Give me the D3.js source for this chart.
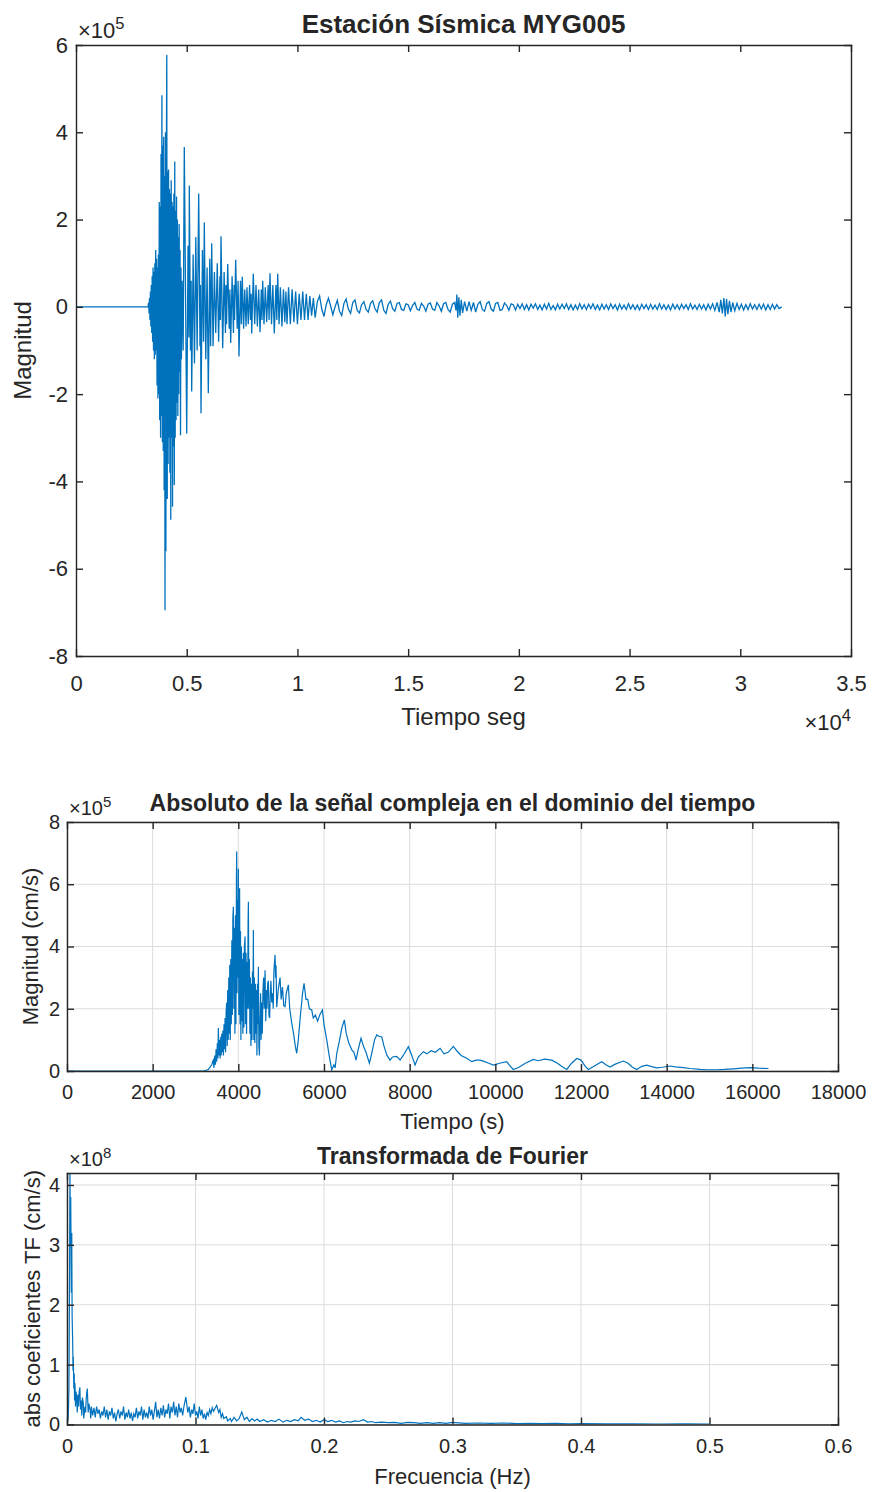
<!DOCTYPE html>
<html lang="es">
<head>
<meta charset="UTF-8">
<title>Estación Sísmica MYG005</title>
<script src="https://d3js.org/d3.v7.min.js"></script>
<style>
  body { margin: 0; background: #fff; }
  svg text { font-family: "Liberation Sans", Arial, sans-serif; fill: #262626; }
</style>
</head>
<body>
<svg id="chart" width="872" height="1492"></svg>
<script>
// --- datos ---
// senal sismica: [tiempo s, magnitud x1e5]
const sismo = [
  [0,0],[3250,0],[3280,0.1],[3300,-0.15],[3320,0.2],[3340,-0.3],[3360,0.35],[3380,-0.45],[3400,0.5],
  [3420,-0.6],[3440,0.7],[3460,-0.8],[3480,0.9],[3500,-1.0],[3520,0.8],[3540,-1.2],[3560,1.0],
  [3580,-1.1],[3600,1.3],[3620,-1.0],[3640,1.1],[3660,-1.8],[3680,0.9],[3700,-2.1],[3720,1.2],
  [3740,-2.0],[3760,2.4],[3780,-2.6],[3800,2.3],[3820,-3.0],[3840,3.5],[3860,-2.5],[3880,4.85],
  [3900,-3.1],[3920,3.7],[3940,-3.3],[3960,3.9],[3980,-4.2],[4000,3.0],[4020,-6.95],[4040,4.0],
  [4060,-5.6],[4080,3.2],[4100,5.77],[4120,-4.4],[4140,3.1],[4160,-3.6],[4180,3.15],[4200,-3.0],
  [4220,2.7],[4240,-3.8],[4260,2.6],[4280,-4.88],[4300,2.9],[4320,-3.0],[4340,2.4],[4360,-4.58],
  [4380,2.3],[4400,-3.2],[4420,2.6],[4440,-4.08],[4460,3.33],[4480,-3.0],[4500,2.2],[4520,-2.6],
  [4540,2.53],[4560,-2.2],[4580,2.0],[4600,-2.5],[4620,1.6],[4640,-2.0],[4660,1.9],[4680,-1.5],
  [4700,1.3],[4720,-2.94],[4740,0.9],[4760,-1.2],[4790,0.6],[4840,-1.0],[4891,3.66],[5000,-2.9],
  [5060,1.4],[5100,-0.7],[5117,2.78],[5170,-1.0],[5200,0.6],[5225,-1.94],[5290,1.2],[5350,-1.3],
  [5410,1.6],[5470,-1.0],[5541,2.6],[5600,-0.9],[5620,0.5],[5645,-2.44],[5710,1.3],[5760,-0.8],
  [5794,1.93],[5860,-1.2],[5920,0.9],[5975,-1.98],[6040,1.1],[6080,-0.9],[6128,1.46],[6190,-0.9],
  [6250,0.8],[6310,-0.6],[6380,1.0],[6440,-0.8],[6500,0.7],[6520,-0.3],[6548,1.62],[6625,-0.95],
  [6690,0.8],[6750,-0.6],[6770,0.5],[6800,-0.4],[6851,0.98],[6920,-0.5],[6950,0.4],[6986,-0.83],
  [7050,0.7],[7110,-0.6],[7140,0.5],[7160,-0.3],[7212,1.08],[7280,-0.5],[7320,0.6],[7361,-1.14],
  [7430,0.6],[7470,-0.4],[7510,0.69],[7570,-0.5],[7620,0.4],[7680,-0.45],[7720,0.45],[7780,-0.4],
  [7840,0.5],[7880,-0.3],[7910,0.3],[7935,-0.61],[8007,0.76],[8070,-0.4],[8130,0.5],[8190,-0.45],
  [8250,0.4],[8310,-0.58],[8370,0.4],[8400,-0.3],[8431,0.6],[8490,-0.4],[8550,0.45],[8610,-0.35],
  [8680,0.5],[8720,-0.3],[8761,0.77],[8830,-0.4],[8890,0.5],[8955,-0.61],[9030,0.5],[9070,-0.3],
  [9109,0.76],[9170,-0.4],[9230,0.45],[9300,-0.45],[9370,0.4],[9430,-0.35],[9480,0.35],[9529,-0.4],
  [9600,0.45],[9680,-0.4],[9760,0.4],[9840,-0.35],[9920,0.35],[10000,-0.4],[10080,0.3],[10160,-0.3],
  [10240,0.35],[10320,-0.3],[10400,0.3],[10480,-0.3],[10560,0.25],[10640,-0.2],[10720,0.2],
  [10800,-0.25],[10900,0.12],[11000,0.25],[11100,-0.05],[11200,-0.22],[11300,0.05],[11400,0.2],
  [11500,0.02],[11600,-0.18],[11700,0.0],[11800,0.15],[11900,-0.1],[12000,-0.2],[12100,0.08],
  [12200,0.18],[12300,-0.05],[12400,-0.15],[12500,0.1],[12600,0.16],[12700,-0.08],[12800,-0.14],
  [12900,0.05],[13000,0.12],[13100,-0.06],[13200,-0.12],[13300,0.08],[13400,0.14],[13500,-0.04],
  [13600,-0.12],[13700,0.1],[13800,0.16],[13900,-0.08],[14000,-0.15],[14100,0.06],[14200,0.13],
  [14300,-0.04],[14400,-0.1],[14500,0.08],[14600,0.1],[14700,-0.06],[14800,-0.08],[14900,0.07],
  [15000,0.05],[15100,-0.09],[15200,0.03],[15300,0.1],[15400,-0.05],[15500,-0.08],[15600,0.08],
  [15700,0.02],[15800,-0.1],[15900,0.06],[16000,0.09],[16100,-0.05],[16200,-0.08],[16300,0.1],
  [16400,0.02],[16500,-0.1],[16600,0.07],[16700,0.1],[16800,-0.06],[16900,-0.12],[17000,0.06],
  [17100,0.1],[17160,-0.08],[17200,0.28],[17240,-0.25],[17290,0.22],[17340,-0.2],[17400,0.16],
  [17460,-0.14],[17550,0.12],[17650,-0.1],[17750,0.12],[17850,-0.08],[17950,0.1],[18050,-0.12],
  [18150,0.06],[18250,0.12],[18350,-0.06],[18450,-0.1],[18550,0.08],[18650,0.12],[18750,-0.05],
  [18850,-0.1],[18950,0.08],[19050,0.1],[19150,-0.08],[19250,-0.06],[19350,0.09],[19450,0.03],
  [19550,-0.08],[19650,0.07],[19750,0.05],[19850,-0.07],[19950,0.06],[20050,-0.04],[20150,0.07],
  [20250,-0.06],[20350,0.05],[20450,-0.07],[20550,0.06],[20650,-0.03],[20750,0.07],[20850,-0.06],
  [20950,0.04],[21050,-0.07],[21150,0.06],[21250,-0.05],[21350,0.08],[21450,-0.06],[21550,0.03],
  [21650,-0.07],[21750,0.06],[21850,-0.05],[21950,0.06],[22050,-0.04],[22150,0.07],[22250,-0.06],
  [22350,0.05],[22450,-0.07],[22550,0.04],[22650,-0.06],[22750,0.07],[22850,-0.05],[22950,0.05],
  [23050,-0.06],[23150,0.06],[23250,-0.04],[23350,0.07],[23450,-0.06],[23550,0.04],[23650,-0.07],
  [23750,0.06],[23850,-0.05],[23950,0.05],[24050,-0.06],[24150,0.07],[24250,-0.04],[24350,0.05],
  [24450,-0.07],[24550,0.06],[24650,-0.05],[24750,0.04],[24850,-0.06],[24950,0.07],[25050,-0.05],
  [25150,0.05],[25250,-0.06],[25350,0.04],[25450,-0.07],[25550,0.06],[25650,-0.04],[25750,0.05],
  [25850,-0.06],[25950,0.06],[26050,-0.05],[26150,0.04],[26250,-0.06],[26350,0.07],[26450,-0.05],
  [26550,0.05],[26650,-0.06],[26750,0.04],[26850,-0.07],[26950,0.06],[27050,-0.05],[27150,0.05],
  [27250,-0.06],[27350,0.06],[27450,-0.04],[27550,0.05],[27650,-0.06],[27750,0.07],[27850,-0.05],
  [27950,0.04],[28050,-0.06],[28150,0.06],[28250,-0.05],[28350,0.05],[28450,-0.07],[28550,0.06],
  [28650,-0.05],[28750,0.07],[28850,-0.08],[28950,0.1],[29050,-0.12],[29120,0.16],[29190,-0.15],
  [29260,0.2],[29320,-0.22],[29380,0.18],[29440,-0.17],[29510,0.14],[29580,-0.12],[29660,0.1],
  [29750,-0.09],[29850,0.08],[29950,-0.06],[30050,0.06],[30150,-0.07],[30250,0.05],[30350,-0.06],
  [30450,0.07],[30550,-0.05],[30650,0.05],[30750,-0.06],[30850,0.06],[30950,-0.05],[31050,0.06],
  [31150,-0.07],[31250,0.05],[31350,-0.06],[31450,0.06],[31550,-0.05],[31650,0.05],[31750,-0.04],
  [31870,0]
];

// absoluto de la senal compleja: [tiempo s, magnitud x1e5]
const absoluto = [
  [0,0],[3200,0],[3300,0.05],[3380,0.2],[3400,0.3],[3417,0.35],[3430,0.1],[3450,0.5],[3465,0.2],
  [3480,0.7],[3495,0.3],[3510,0.9],[3522,0.4],[3534,1.38],[3548,0.5],[3560,1.0],[3575,0.4],
  [3590,1.1],[3600,0.5],[3612,1.2],[3625,0.6],[3640,1.3],[3652,0.5],[3665,1.5],[3678,0.7],
  [3690,1.7],[3702,0.6],[3715,1.9],[3729,2.2],[3740,0.8],[3752,2.6],[3764,1.0],[3776,3.0],
  [3788,1.2],[3800,3.41],[3812,1.0],[3824,3.6],[3836,1.5],[3848,4.2],[3860,1.8],[3872,4.9],
  [3884,5.28],[3896,2.0],[3908,4.6],[3920,1.2],[3932,5.0],[3944,1.5],[3956,6.2],[3962,7.05],
  [3970,2.5],[3980,5.5],[3990,3.0],[4001,6.5],[4012,1.8],[4022,5.0],[4030,5.87],[4040,1.5],
  [4050,4.5],[4060,1.0],[4072,4.0],[4084,1.6],[4094,3.6],[4106,1.2],[4118,3.8],[4130,1.4],
  [4142,4.0],[4157,4.32],[4168,1.5],[4180,3.8],[4192,1.2],[4204,3.5],[4216,2.0],[4228,4.8],
  [4235,5.44],[4246,2.0],[4258,3.6],[4270,1.2],[4282,3.0],[4294,0.8],[4306,2.8],[4318,1.0],
  [4330,3.2],[4342,2.0],[4351,4.53],[4362,1.0],[4374,3.0],[4386,0.9],[4398,2.8],[4410,1.2],
  [4422,2.6],[4434,0.5],[4446,2.8],[4458,1.5],[4468,3.35],[4480,0.8],[4492,0.5],[4507,1.7],
  [4520,2.5],[4532,1.0],[4545,2.2],[4560,1.2],[4575,2.6],[4590,3.0],[4605,2.0],[4624,3.24],
  [4640,1.6],[4655,2.6],[4670,2.0],[4685,2.8],[4701,2.9],[4715,1.8],[4730,1.7],[4745,2.4],
  [4760,2.9],[4780,2.2],[4800,2.5],[4815,2.0],[4830,3.2],[4857,3.73],[4870,3.0],[4880,3.4],
  [4896,2.05],[4930,2.6],[4974,3.0],[5000,2.3],[5030,2.7],[5060,2.1],[5090,2.07],
  [5120,2.5],[5168,2.77],[5200,2.0],[5246,1.55],[5290,1.2],[5330,0.8],[5363,0.57],[5400,1.0],
  [5450,1.8],[5500,2.5],[5534,2.82],[5580,2.3],[5620,2.3],[5660,2.0],[5713,1.96],[5750,1.7],
  [5800,1.8],[5850,1.6],[5900,1.8],[5962,1.96],[6000,1.5],[6064,1.0],[6120,0.5],[6181,0.03],
  [6230,0.2],[6260,0.1],[6298,0.57],[6350,0.9],[6420,1.4],[6475,1.64],[6520,1.2],[6580,0.9],
  [6648,0.68],[6700,0.6],[6748,0.35],[6800,0.7],[6865,1.05],[6920,0.8],[6980,0.6],[7060,0.25],
  [7120,0.6],[7180,1.0],[7232,1.16],[7300,1.1],[7349,1.1],[7400,0.8],[7470,0.5],[7543,0.35],
  [7600,0.45],[7699,0.47],[7776,0.35],[7850,0.5],[7970,0.78],[8050,0.5],[8126,0.19],[8200,0.45],
  [8320,0.62],[8400,0.55],[8500,0.65],[8600,0.6],[8710,0.73],[8800,0.55],[8900,0.6],[9020,0.79],
  [9100,0.65],[9200,0.5],[9333,0.41],[9450,0.3],[9550,0.35],[9644,0.35],[9750,0.3],[9850,0.25],
  [9955,0.19],[10100,0.25],[10267,0.3],[10350,0.15],[10421,0.05],[10550,0.12],[10700,0.25],
  [10888,0.37],[11000,0.33],[11150,0.38],[11318,0.35],[11450,0.25],[11580,0.12],[11668,0.05],
  [11780,0.25],[11901,0.4],[12000,0.35],[12100,0.15],[12173,0.05],[12300,0.15],[12484,0.3],
  [12580,0.2],[12679,0.13],[12800,0.22],[12990,0.32],[13100,0.25],[13200,0.12],[13302,0.05],
  [13420,0.15],[13535,0.19],[13650,0.14],[13769,0.1],[13900,0.12],[14080,0.16],[14200,0.13],
  [14391,0.11],[14550,0.08],[14781,0.05],[14950,0.04],[15170,0.04],[15350,0.05],[15559,0.07],
  [15750,0.09],[15949,0.11],[16150,0.09],[16377,0.08]
];

// transformada de Fourier: [frecuencia Hz, abs x1e8]
const fourier = [
  [0,0],[0.0005,0.05],[0.001,0.13],[0.0015,0.6],[0.002,2.5],[0.0023,4.3],[0.0026,3.0],[0.0029,3.8],
  [0.0031,3.14],[0.0034,2.2],[0.0037,3.2],[0.004,1.8],[0.0044,1.41],[0.0047,0.9],[0.0049,1.13],
  [0.0053,0.6],[0.0056,0.85],[0.0059,0.4],[0.0062,0.69],[0.0066,0.3],[0.007,0.55],[0.0075,0.46],
  [0.008,0.2],[0.0085,0.5],[0.009,0.3],[0.0095,0.55],[0.01,0.62],[0.0105,0.25],[0.011,0.4],
  [0.0115,0.15],[0.012,0.45],[0.0127,0.35],[0.013,0.1],[0.014,0.3],[0.0145,0.2],[0.015,0.45],
  [0.0158,0.6],[0.0165,0.2],[0.017,0.35],[0.018,0.24],[0.0185,0.1],[0.019,0.3],[0.02,0.15],
  [0.021,0.28],[0.022,0.12],[0.023,0.3],[0.024,0.18],[0.025,0.25],[0.026,0.1],[0.027,0.22],
  [0.028,0.15],[0.029,0.3],[0.03,0.12],[0.031,0.25],[0.032,0.08],[0.033,0.22],[0.034,0.15],
  [0.035,0.28],[0.036,0.1],[0.037,0.2],[0.038,0.05],[0.039,0.18],[0.04,0.25],[0.041,0.1],
  [0.042,0.22],[0.043,0.15],[0.044,0.3],[0.045,0.08],[0.046,0.2],[0.047,0.12],[0.048,0.25],
  [0.049,0.1],[0.05,0.2],[0.051,0.06],[0.052,0.18],[0.053,0.12],[0.054,0.28],[0.055,0.1],
  [0.056,0.22],[0.057,0.15],[0.058,0.3],[0.059,0.08],[0.06,0.25],[0.061,0.12],[0.062,0.2],
  [0.063,0.1],[0.064,0.3],[0.065,0.15],[0.066,0.25],[0.067,0.08],[0.068,0.22],[0.069,0.38],
  [0.07,0.12],[0.071,0.25],[0.072,0.1],[0.073,0.28],[0.074,0.15],[0.075,0.32],[0.076,0.12],
  [0.077,0.25],[0.078,0.18],[0.079,0.35],[0.08,0.1],[0.081,0.3],[0.082,0.2],[0.083,0.38],
  [0.084,0.15],[0.085,0.3],[0.086,0.12],[0.087,0.35],[0.088,0.2],[0.089,0.28],[0.09,0.15],
  [0.091,0.3],[0.0925,0.46],[0.094,0.2],[0.095,0.3],[0.096,0.12],[0.097,0.25],[0.098,0.18],
  [0.099,0.35],[0.1,0.15],[0.101,0.22],[0.102,0.1],[0.103,0.3],[0.104,0.15],[0.105,0.25],
  [0.106,0.1],[0.107,0.18],[0.108,0.08],[0.109,0.2],[0.11,0.15],[0.111,0.25],[0.112,0.18],
  [0.113,0.28],[0.114,0.22],[0.1165,0.32],[0.118,0.2],[0.119,0.25],[0.12,0.12],[0.121,0.18],
  [0.122,0.1],[0.124,0.13],[0.125,0.06],[0.127,0.1],[0.128,0.05],[0.13,0.12],[0.132,0.06],
  [0.134,0.1],[0.136,0.21],[0.138,0.08],[0.14,0.12],[0.142,0.05],[0.144,0.1],[0.146,0.06],
  [0.148,0.09],[0.15,0.05],[0.153,0.08],[0.156,0.04],[0.159,0.07],[0.162,0.05],[0.165,0.09],
  [0.168,0.04],[0.171,0.07],[0.174,0.05],[0.177,0.08],[0.18,0.06],[0.1821,0.12],[0.185,0.07],
  [0.188,0.09],[0.191,0.05],[0.194,0.07],[0.197,0.04],[0.2,0.08],[0.203,0.05],[0.206,0.07],
  [0.209,0.04],[0.212,0.06],[0.215,0.03],[0.218,0.05],[0.221,0.04],[0.224,0.06],[0.227,0.05],
  [0.2306,0.08],[0.234,0.04],[0.237,0.05],[0.24,0.03],[0.245,0.04],[0.25,0.03],[0.255,0.035],
  [0.26,0.02],[0.265,0.035],[0.27,0.03],[0.275,0.02],[0.28,0.03],[0.285,0.02],[0.29,0.03],
  [0.295,0.02],[0.3,0.035],[0.31,0.02],[0.32,0.025],[0.33,0.02],[0.34,0.025],[0.35,0.015],
  [0.36,0.02],[0.37,0.015],[0.38,0.02],[0.39,0.01],[0.4,0.015],[0.42,0.01],[0.44,0.012],
  [0.46,0.008],[0.48,0.01],[0.5,0.005]
];

// ticks
const sismoXTicks = [0, 5000, 10000, 15000, 20000, 25000, 30000, 35000];
const sismoYTicks = [-8, -6, -4, -2, 0, 2, 4, 6];
const absXTicks = [0, 2000, 4000, 6000, 8000, 10000, 12000, 14000, 16000, 18000];
const absYTicks = [0, 2, 4, 6, 8];
const fourierXTicks = [0, 0.1, 0.2, 0.3, 0.4, 0.5, 0.6];
const fourierYTicks = [0, 1, 2, 3, 4];

const LINE = '#0072BD';
const AXIS = '#262626';
const svg = d3.select('#chart');

function panel(o) {
  const x = d3.scaleLinear().domain(o.xDom).range([o.left, o.right]);
  const y = d3.scaleLinear().domain(o.yDom).range([o.bottom, o.top]);
  const g = svg.append('g');
  const tick = 7;

  // grid
  if (o.grid) {
    g.append('g').selectAll('line').data(o.xTicks).join('line')
      .attr('x1', d => x(d)).attr('x2', d => x(d))
      .attr('y1', o.top).attr('y2', o.bottom)
      .attr('stroke', '#dcdcdc').attr('stroke-width', 1);
    g.append('g').selectAll('line').data(o.yTicks).join('line')
      .attr('y1', d => y(d)).attr('y2', d => y(d))
      .attr('x1', o.left).attr('x2', o.right)
      .attr('stroke', '#dcdcdc').attr('stroke-width', 1);
  }

  // data line, clipped to the box
  const clipId = 'clip' + o.id;
  svg.append('clipPath').attr('id', clipId).append('rect')
    .attr('x', o.left).attr('y', o.top)
    .attr('width', o.right - o.left).attr('height', o.bottom - o.top);
  g.append('path').datum(o.data)
    .attr('clip-path', `url(#${clipId})`)
    .attr('fill', 'none').attr('stroke', LINE).attr('stroke-width', o.lineW)
    .attr('d', d3.line().x(d => x(d[0])).y(d => y(d[1])));

  // axes (ticks inward, box on)
  const styleAxis = sel => {
    sel.select('.domain').attr('stroke', AXIS).attr('stroke-width', 1.4);
    sel.selectAll('.tick line').attr('stroke', AXIS).attr('stroke-width', 1.4);
    sel.selectAll('.tick text').attr('fill', AXIS).style('font-size', o.tickFont + 'px');
  };
  g.append('g').attr('transform', `translate(0,${o.bottom})`)
    .call(d3.axisBottom(x).tickValues(o.xTicks).tickSizeInner(-tick).tickSizeOuter(0)
      .tickPadding(o.xPad).tickFormat(o.xFmt))
    .call(styleAxis);
  g.append('g').attr('transform', `translate(0,${o.top})`)
    .call(d3.axisTop(x).tickValues(o.xTicks).tickSizeInner(-tick).tickSizeOuter(0).tickFormat(''))
    .call(styleAxis);
  g.append('g').attr('transform', `translate(${o.left},0)`)
    .call(d3.axisLeft(y).tickValues(o.yTicks).tickSizeInner(-tick).tickSizeOuter(0)
      .tickPadding(o.yPad).tickFormat(o.yFmt))
    .call(styleAxis);
  g.append('g').attr('transform', `translate(${o.right},0)`)
    .call(d3.axisRight(y).tickValues(o.yTicks).tickSizeInner(-tick).tickSizeOuter(0).tickFormat(''))
    .call(styleAxis);
  g.selectAll('.domain').attr('stroke-linecap', 'square');

  // title
  g.append('text').attr('x', (o.left + o.right) / 2).attr('y', o.titleY)
    .attr('text-anchor', 'middle').style('font-weight', 'bold')
    .style('font-size', o.titleFont + 'px').text(o.title);

  // labels
  g.append('text').attr('x', (o.left + o.right) / 2).attr('y', o.xLabelY)
    .attr('text-anchor', 'middle').style('font-size', o.labelFont + 'px').text(o.xLabel);
  g.append('text')
    .attr('transform', `translate(${o.yLabelX},${(o.top + o.bottom) / 2}) rotate(-90)`)
    .attr('text-anchor', 'middle').style('font-size', o.labelFont + 'px').text(o.yLabel);

  // exponent labels
  const expo = (xp, yp, e, anchor) => {
    const t = g.append('text').attr('x', xp).attr('y', yp).attr('text-anchor', anchor)
      .style('font-size', o.tickFont + 'px');
    t.append('tspan').text('\u00d710');
    t.append('tspan').attr('dy', -o.tickFont * 0.42).style('font-size', (o.tickFont * 0.75) + 'px').text(e);
  };
  expo(o.left + 2, o.top - 7, o.yExp, 'start');
  if (o.xExp) expo(o.right, o.xExpY, o.xExp, 'end');
}

panel({
  id: 1, left: 76, right: 851, top: 45, bottom: 656,
  xDom: [0, 35000], yDom: [-8, 6], data: sismo, lineW: 1.3,
  xTicks: sismoXTicks, yTicks: sismoYTicks,
  xFmt: d => d3.format('~g')(d / 10000), yFmt: d => String(d),
  tickFont: 22, labelFont: 24, titleFont: 26,
  xPad: 19, yPad: 8,
  title: 'Estación Sísmica MYG005', titleY: 33,
  xLabelY: 725, xLabel: 'Tiempo seg',
  yLabel: 'Magnitud', yLabelX: 31,
  yExp: '5', xExp: '4', xExpY: 730, grid: false
});

panel({
  id: 2, left: 67, right: 838, top: 822, bottom: 1071,
  xDom: [0, 18000], yDom: [0, 8], data: absoluto, lineW: 1.2,
  xTicks: absXTicks, yTicks: absYTicks,
  xFmt: d => String(d), yFmt: d => String(d),
  tickFont: 20, labelFont: 22, titleFont: 23,
  xPad: 14, yPad: 7,
  title: 'Absoluto de la señal compleja en el dominio del tiempo', titleY: 811,
  xLabel: 'Tiempo (s)', xLabelY: 1129,
  yLabel: 'Magnitud (cm/s)', yLabelX: 38,
  yExp: '5', grid: true
});

panel({
  id: 3, left: 67, right: 838, top: 1173, bottom: 1424.5,
  xDom: [0, 0.6], yDom: [0, 4.2], data: fourier, lineW: 1.2,
  xTicks: fourierXTicks, yTicks: fourierYTicks,
  xFmt: d => d3.format('~g')(d), yFmt: d => String(d),
  tickFont: 20, labelFont: 22, titleFont: 23,
  xPad: 14, yPad: 7,
  title: 'Transformada de Fourier', titleY: 1164,
  xLabel: 'Frecuencia (Hz)', xLabelY: 1484,
  yLabel: 'abs coeficientes TF (cm/s)', yLabelX: 40,
  yExp: '8', grid: true
});
</script>
</body>
</html>
